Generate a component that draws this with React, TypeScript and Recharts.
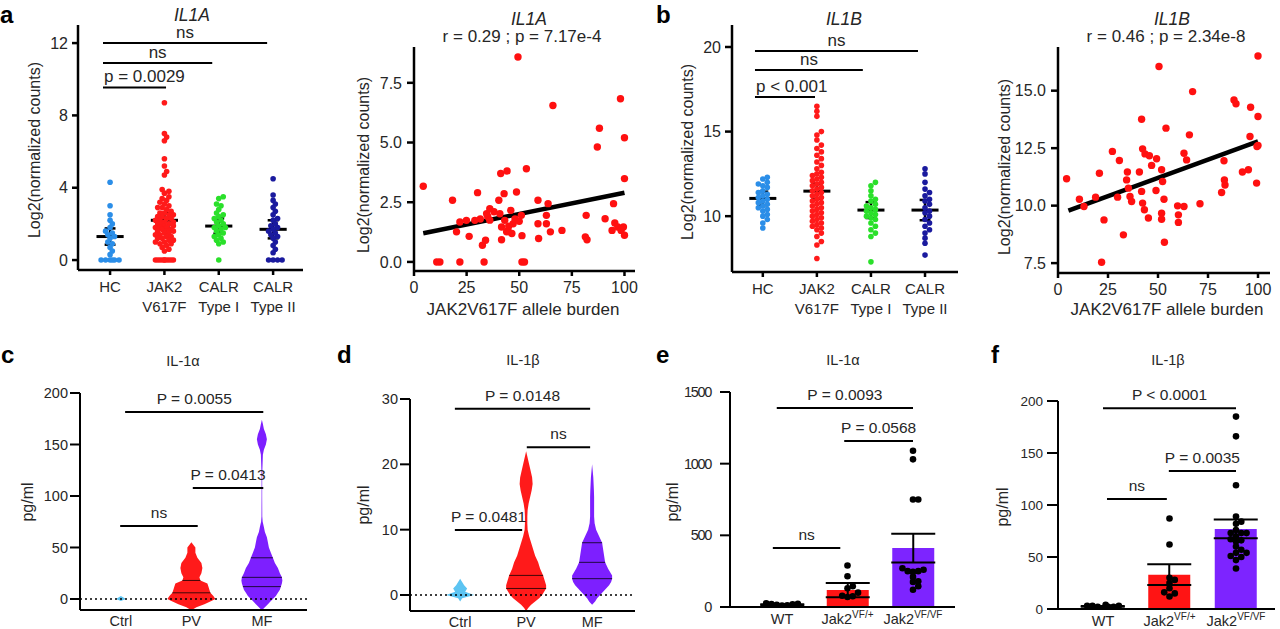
import React from 'react';
import { Area, Bar, Cell, ComposedChart, ErrorBar, ReferenceLine, Scatter, XAxis, YAxis } from 'recharts';

const FONT = '"Liberation Sans", Arial, Helvetica, sans-serif';
const INK = '#262626';
const M = { l: 70, t: 30, r: 15, b: 50 };
const axisTop = { stroke: '#000', strokeWidth: 2.5 };
const axisBottom = { stroke: '#000', strokeWidth: 2 };

// ---------- a / b : expression by genotype ----------
const groupLabels = [['HC'], ['JAK2', 'V617F'], ['CALR', 'Type I'], ['CALR', 'Type II']];
const groupColors = ['#2b8ee8', '#ff1a1a', '#2ae02a', '#1a1a9e'];

const il1aHC = [4.3, 3.0, 2.5, 2.2, 2.0, 1.8, 1.6, 1.5, 1.4, 1.3, 1.2, 1.0, 0.9, 0.7, 0.5, 0.3, 0, 0, 0, 0, 0, 0];
const il1aJAK2 = [
  8.7, 7.0, 6.8, 6.6, 5.6, 5.2, 4.9, 4.7, 3.9, 3.8, 3.7, 3.5, 3.4, 3.3, 3.2, 3.1, 3.0, 2.9, 2.9, 2.8, 2.7, 2.6, 2.6,
  2.5, 2.5, 2.4, 2.4, 2.3, 2.3, 2.2, 2.2, 2.1, 2.1, 2.0, 2.0, 2.0, 1.9, 1.9, 1.8, 1.8, 1.8, 1.7, 1.7, 1.6, 1.6, 1.6,
  1.5, 1.5, 1.4, 1.4, 1.3, 1.3, 1.2, 1.2, 1.1, 1.1, 1.0, 1.0, 0.9, 0.9, 0.8, 0.7, 0.6, 0.5, 0, 0, 0, 0, 0, 0, 0, 0, 0, 0,
];
const il1aCALR1 = [3.5, 3.4, 3.1, 3.0, 2.8, 2.6, 2.5, 2.4, 2.3, 2.2, 2.1, 2.0, 1.9, 1.8, 1.8, 1.7, 1.6, 1.5, 1.4, 1.3, 1.2, 1.1, 1.0, 0.9, 0];
const il1aCALR2 = [4.5, 3.6, 3.3, 3.1, 2.9, 2.7, 2.5, 2.3, 2.2, 2.0, 1.9, 1.8, 1.7, 1.6, 1.5, 1.4, 1.3, 1.2, 1.0, 0.8, 0.6, 0.4, 0, 0, 0, 0];
const il1aMean = [1.3, 2.2, 1.88, 1.7];
const il1aSem = [0.45, 0.4, 0.42, 0.5];
const il1aSig = [
  { x1: 0.87, x2: 2.03, y: 9.55, text: 'p = 0.0029', anchor: 'start' },
  { x1: 0.87, x2: 2.88, y: 10.9, text: 'ns' },
  { x1: 0.87, x2: 3.89, y: 12.0, text: 'ns' },
];

const il1bHC = [12.3, 12.2, 12.0, 11.9, 11.8, 11.7, 11.5, 11.4, 11.3, 11.2, 11.1, 11.0, 10.9, 10.8, 10.7, 10.6, 10.5, 10.4, 10.3, 10.1, 10.0, 9.8, 9.6, 9.3];
const il1bJAK2 = [
  16.5, 16.2, 15.9, 15.0, 14.8, 14.5, 14.2, 14.0, 13.8, 13.6, 13.4, 13.2, 13.0, 12.8, 12.6, 12.5, 12.4, 12.3, 12.2,
  12.1, 12.0, 11.9, 11.8, 11.7, 11.6, 11.5, 11.4, 11.3, 11.2, 11.1, 11.0, 10.9, 10.8, 10.7, 10.6, 10.5, 10.4, 10.3,
  10.2, 10.1, 10.0, 9.9, 9.8, 9.7, 9.6, 9.5, 9.4, 9.3, 9.2, 9.0, 8.8, 8.5, 8.3, 7.5,
];
const il1bCALR1 = [12.0, 11.8, 11.5, 11.2, 11.0, 10.9, 10.7, 10.6, 10.5, 10.4, 10.3, 10.2, 10.1, 10.0, 9.9, 9.8, 9.6, 9.4, 9.2, 9.0, 8.8, 7.3];
const il1bCALR2 = [12.8, 12.5, 12.0, 11.6, 11.4, 11.2, 11.0, 10.9, 10.7, 10.5, 10.3, 10.2, 10.0, 9.8, 9.6, 9.4, 9.2, 9.0, 8.7, 8.4, 7.7];
const il1bMean = [11.05, 11.48, 10.36, 10.36];
const il1bSem = [0.4, 0.45, 0.47, 0.6];
const il1bSig = [
  { x1: 0.855, x2: 1.965, y: 17.04, text: 'p < 0.001', anchor: 'start' },
  { x1: 0.855, x2: 2.85, y: 18.64, text: 'ns' },
  { x1: 0.855, x2: 3.87, y: 19.76, text: 'ns' },
];

// ---------- correlation with allele burden ----------
const il1aBurden = [
  4.4, 18.3, 20.2, 21.8, 10.8, 12.3, 21.8, 26.2, 24.9, 30.2, 28.9, 32.5, 34, 33.3, 34.5, 36, 40.3, 41.2, 44.2, 42.8,
  40.8, 41.6, 41.6, 43.1, 44.7, 46, 48.7, 47.1, 49.4, 51, 53.4, 51.3, 51.3, 52.5, 58.9, 58.9, 59.2, 63.7, 62.9, 62.9,
  64.8, 66, 70.3, 81.8, 81.4, 82.2, 87.1, 88.1, 90.8, 94.8, 94.1, 95.4, 96.8, 98.1, 98.4, 99.5, 100, 100, 100, 44,
  46.5, 35, 38, 45, 31.5, 48, 50, 36,
];
const il1aCounts = [
  3.17, 2.58, 1.26, 1.67, 0, 0, 0, 1.07, 1.74, 2.9, 1.74, 0.7, 0.91, 0, 2.02, 2.23, 2.58, 3.7, 3.81, 2.86,
  2.02, 1.46, 0.93, 1.74, 1.32, 2.16, 2.93, 1.6, 8.58, 1.95, 3.9, 1.1, 0, 0, 2.58, 1.6, 0.98, 2.44, 1.95, 1.6,
  1.26, 6.55, 1.32, 1.95, 1.05, 0.93, 4.81, 5.6, 1.81, 2.44, 1.32, 1.63, 1.46, 6.83, 1.32, 1.46, 5.2, 3.49, 1.12, 1.26,
  1.19, 1.9, 2.1, 1.5, 1.8, 1.8, 1.7, 1.75,
];
const il1aFit = { a: 1.12, b: 0.0178, from: 4.4, to: 100 };

const il1bBurden = [
  4.3, 10.7, 13, 18.8, 20.7, 23, 21.8, 27.2, 30.7, 29.8, 32.7, 34.7, 34.3, 35.2, 36, 36.8, 40.7, 41.8, 42.3, 43.5,
  41.8, 42.3, 43.2, 45.2, 46.8, 45.7, 49.3, 49, 50.5, 51.8, 52.3, 53, 51.8, 51.8, 53.2, 54, 59.8, 60.2, 60.2, 63,
  63, 64.3, 65.7, 67.3, 71, 81.8, 83, 83.2, 83.5, 88, 89, 92.2, 95.2, 96.3, 96, 99.3, 100, 100, 100, 99.5,
];
const il1bCounts = [
  11.17, 10.28, 9.96, 10.37, 11.41, 9.38, 7.54, 12.36, 11.96, 10.37, 8.73, 11.46, 11.12, 10.76, 10.4, 10.18, 11.46,
  13.76, 12.47, 12.25, 10.62, 10.11, 9.82, 9.46, 11.75, 12.17, 12.04, 10.66, 16.05, 11.56, 11.05, 10.28, 9.67, 9.41,
  8.41, 13.37, 9.99, 9.6, 9.27, 9.96, 12.28, 11.99, 13.08, 14.96, 10.08, 10.57, 11.95, 11.12, 10.9, 14.6, 14.43,
  11.46, 11.56, 14.28, 13.01, 10.98, 12.62, 16.51, 13.88, 12.57,
];
const il1bFit = { a: 9.62, b: 0.0318, from: 5.2, to: 100 };

// ---------- c / d : patient plasma, violins ----------
const patientGroups = ['Ctrl', 'PV', 'MF'];
const violinColors = ['#5cc4f2', '#ff1a1a', '#7d1fff'];

const cGrid = [-11, -8, -5, -2, 0, 3, 6, 9, 12, 15, 18, 21, 25, 30, 35, 40, 45, 50, 55, 60, 65, 70, 75, 80, 100, 120, 140, 145, 150, 155, 160, 165, 170, 174];
const cCtrl = [null, null, null, 0, 5, 0, null, null, null, null, null, null, null, null, null, null, null, null, null, null, null, null, null, null, null, null, null, null, null, null, null, null, null, null];
const cPV = [0, 5, 13, 20, 24, 22, 19, 18, 17, 16, 9, 8, 10, 11, 10, 6, 4, 4, 0, null, null, null, null, null, null, null, null, null, null, null, null, null, null, null];
const cMF = [0, 3, 6, 9, 11, 14, 16, 18, 19, 20, 20.5, 20, 18, 16, 13, 11, 9, 7, 6, 5, 3, 2, 0.8, 0.4, 0.3, 0.3, 1, 2, 4, 5, 4, 2, 1, 0];
const cQuart = [[], [6, 18], [12, 21, 40]];
const cSig = [
  { x1: 1.06, x2: 3.02, y: 181.5, text: 'P = 0.0055' },
  { x1: 2.02, x2: 3.02, y: 107.8, text: 'P = 0.0413' },
  { x1: 0.99, x2: 2.09, y: 70.9, text: 'ns' },
];

const dGrid = [-2.5, -2, -1.5, -1, -0.5, 0, 0.5, 1, 1.5, 2, 2.5, 3, 4, 5, 6, 7, 8, 9, 10, 11, 12, 13, 14, 15, 16, 17, 18, 19, 20, 21, 22];
const dCtrl = [null, null, null, 0, 2, 14, 5, 7, 4, 2, 0, null, null, null, null, null, null, null, null, null, null, null, null, null, null, null, null, null, null, null, null];
const dPV = [0, 2, 5, 9, 13, 16, 18, 20, 20, 19, 18, 17, 14, 12, 9, 7, 5, 3, 1.5, 1.2, 1.2, 1.5, 2.5, 4, 5.5, 6.5, 6, 4.5, 3, 1.5, 0];
const dMF = [null, null, 0, 3, 5, 8, 11, 14, 17, 19, 20, 20, 16, 13, 12, 11, 10, 7, 4, 2.5, 2, 2, 2, 2, 1.8, 1.5, 1.2, 0.6, 0, null, null];
const dQuart = [[], [1, 3], [2.5, 5, 8]];
const dSig = [
  { x1: 0.92, x2: 2.97, y: 28.5, text: 'P = 0.0148' },
  { x1: 2.01, x2: 2.97, y: 22.6, text: 'ns' },
  { x1: 0.92, x2: 1.94, y: 9.95, text: 'P = 0.0481' },
];

// ---------- e / f : mice, bars with points ----------
const mouseGroups = [['WT', ''], ['Jak2', 'VF/+'], ['Jak2', 'VF/VF']];
const barColors = ['#ffffff', '#ff1414', '#7d24ff'];

const eWT = [10, 25, 20, 15, 22, 12, 18];
const eHet = [290, 215, 145, 130, 100, 75, 70, 78];
const eHom = [1090, 1030, 750, 750, 260, 270, 250, 250, 245, 210, 180, 175, 145, 120];
const eMean = [16, 118, 411];
const eSem = [3, 50, 100];
const eSig = [
  { x1: 0.92, x2: 3.0, y: 1388, text: 'P = 0.0093' },
  { x1: 1.95, x2: 3.0, y: 1158, text: 'P = 0.0568' },
  { x1: 0.86, x2: 1.89, y: 411, text: 'ns' },
];

const fWT = [2, 4, 3, 2, 3, 1, 2, 3];
const fHet = [87, 62, 30, 28, 12, 15, 16, 20, 25];
const fHom = [185, 166, 119, 89, 84, 82, 73, 66, 54, 50, 39, 47, 54, 51, 67, 73, 76, 73, 65, 57, 60, 70];
const fMean = [2.5, 33, 77];
const fSem = [0.4, 10, 9];
const fSig = [
  { x1: 1.0, x2: 3.0, y: 193, text: 'P < 0.0001' },
  { x1: 1.99, x2: 3.0, y: 132.7, text: 'P = 0.0035' },
  { x1: 1.06, x2: 1.96, y: 105.8, text: 'ns' },
];

// spread points sideways so they don't sit on top of each other (pixel space)
function swarm(values: number[], pxPerUnit: number, r: number, maxPx: number) {
  const step = r * 0.8;
  const minD = r * 1.5;
  const cands = [0];
  for (let s = step; s <= maxPx + 0.01; s += step) cands.push(s, -s);
  const order = values.map((_, i) => i).sort((a, b) => values[a] - values[b]);
  const placed: { x: number; y: number }[] = [];
  const out = values.map(() => 0);
  order.forEach((i) => {
    const y = values[i] * pxPerUnit;
    let best = 0;
    let bestD = -1;
    for (const c of cands) {
      let d = Infinity;
      for (const p of placed) d = Math.min(d, Math.hypot(p.x - c, p.y - y));
      if (d >= minD) {
        best = c;
        break;
      }
      if (d > bestD) {
        bestD = d;
        best = c;
      }
    }
    placed.push({ x: best, y });
    out[i] = best;
  });
  return out;
}

function frame(x0: number, y0: number, x1: number, y1: number) {
  return { left: x0 - M.l, top: y0 - M.t, width: x1 - x0 + M.l + M.r, height: y1 - y0 + M.t + M.b };
}

function sigLabel(text: string, gap: number, size: number, anchor = 'middle') {
  return (p: any) => {
    const vb = p.viewBox || {};
    const x = anchor === 'start' ? vb.x + 1 : vb.x + vb.width / 2;
    return (
      <text x={x} y={vb.y - gap} textAnchor={anchor} fontSize={size} fill={INK} fontFamily={FONT}>
        {text}
      </text>
    );
  };
}

function sigLines(sigs: any[], gap: number, size: number, width: number, xAxisId?: string) {
  return sigs.map((s, i) => (
    <ReferenceLine
      key={'sig' + i}
      {...(xAxisId ? { xAxisId } : {})}
      segment={[{ x: s.x1, y: s.y }, { x: s.x2, y: s.y }]}
      stroke="#000"
      strokeWidth={width}
      label={sigLabel(s.text, gap, size, s.anchor)}
    />
  ));
}

const yTick = (size: number) => ({ fontSize: size, fill: INK, fontFamily: FONT });

function DotPlot({ rect, xDomain, yDomain, yTicks, yTickSize, groups, means, sems, sigs, pxY, pxX }: any) {
  const f = frame(rect[0], rect[1], rect[2], rect[3]);
  const series = groups.map((vals: number[], g: number) => {
    const off = swarm(vals, pxY, 2.8, 9);
    return vals.map((v, i) => ({ x: g + 1 + off[i] / pxX, y: v }));
  });
  return (
    <div style={{ position: 'absolute', left: f.left, top: f.top }}>
      <ComposedChart width={f.width} height={f.height} margin={{ top: M.t, right: M.r, bottom: 0, left: 0 }}>
        <XAxis
          type="number"
          dataKey="x"
          domain={xDomain}
          allowDataOverflow
          ticks={[1, 2, 3, 4]}
          interval={0}
          height={M.b}
          axisLine={axisTop}
          tickLine={axisTop}
          tickSize={5}
          tickMargin={2}
          tick={(p: any) => (
            <text x={p.x} y={p.y} textAnchor="middle" fontSize={15} fill={INK} fontFamily={FONT}>
              {(groupLabels[Math.round(p.payload.value) - 1] || []).map((t, i) => (
                <tspan key={i} x={p.x} dy={i === 0 ? 15 : 20}>
                  {t}
                </tspan>
              ))}
            </text>
          )}
        />
        <YAxis
          type="number"
          domain={yDomain}
          allowDataOverflow
          ticks={yTicks}
          interval={0}
          width={M.l}
          axisLine={axisTop}
          tickLine={axisTop}
          tickSize={yTickSize}
          tickMargin={4}
          tick={yTick(16)}
        />
        {series.map((d: any[], g: number) => (
          <Scatter
            key={'s' + g}
            data={d}
            dataKey="y"
            isAnimationActive={false}
            shape={(p: any) => <circle cx={p.cx} cy={p.cy} r={2.8} fill={groupColors[g]} />}
          />
        ))}
        {means.map((m: number, g: number) => (
          <ReferenceLine key={'m' + g} segment={[{ x: g + 0.75, y: m }, { x: g + 1.25, y: m }]} stroke="#000" strokeWidth={3} />
        ))}
        {means.map((m: number, g: number) => (
          <ReferenceLine key={'e' + g} segment={[{ x: g + 1, y: m - sems[g] }, { x: g + 1, y: m + sems[g] }]} stroke="#000" strokeWidth={2.5} />
        ))}
        {means.map((m: number, g: number) => (
          <ReferenceLine key={'ct' + g} segment={[{ x: g + 0.9, y: m + sems[g] }, { x: g + 1.1, y: m + sems[g] }]} stroke="#000" strokeWidth={2.5} />
        ))}
        {means.map((m: number, g: number) => (
          <ReferenceLine key={'cb' + g} segment={[{ x: g + 0.9, y: m - sems[g] }, { x: g + 1.1, y: m - sems[g] }]} stroke="#000" strokeWidth={2.5} />
        ))}
        {sigLines(sigs, 5, 17, 2)}
      </ComposedChart>
    </div>
  );
}

function CorrPlot({ rect, xDomain, yDomain, yTicks, xs, ys, fit }: any) {
  const f = frame(rect[0], rect[1], rect[2], rect[3]);
  const data = xs.map((x: number, i: number) => ({ x, y: ys[i] }));
  return (
    <div style={{ position: 'absolute', left: f.left, top: f.top }}>
      <ComposedChart width={f.width} height={f.height} margin={{ top: M.t, right: M.r, bottom: 0, left: 0 }}>
        <XAxis
          type="number"
          dataKey="x"
          domain={xDomain}
          allowDataOverflow
          ticks={[0, 25, 50, 75, 100]}
          interval={0}
          height={M.b}
          axisLine={axisTop}
          tickLine={axisTop}
          tickSize={5}
          tickMargin={2}
          tick={(p: any) => (
            <text x={p.x} y={p.y} dy={15} textAnchor="middle" fontSize={16} fill={INK} fontFamily={FONT}>
              {p.payload.value}
            </text>
          )}
        />
        <YAxis
          type="number"
          domain={yDomain}
          allowDataOverflow
          ticks={yTicks}
          interval={0}
          width={M.l}
          axisLine={axisTop}
          tickLine={axisTop}
          tickSize={7}
          tickMargin={5}
          tickFormatter={(v: number) => v.toFixed(1)}
          tick={yTick(16)}
        />
        <Scatter
          data={data}
          dataKey="y"
          isAnimationActive={false}
          shape={(p: any) => <circle cx={p.cx} cy={p.cy} r={3.7} fill="#ff1010" />}
        />
        <ReferenceLine
          segment={[
            { x: fit.from, y: fit.a + fit.b * fit.from },
            { x: fit.to, y: fit.a + fit.b * fit.to },
          ]}
          stroke="#000"
          strokeWidth={4.5}
        />
      </ComposedChart>
    </div>
  );
}

function ViolinPlot({ rect, xDomain, yDomain, yTicks, grid, dens, quart, k, sigs }: any) {
  const f = frame(rect[0], rect[1], rect[2], rect[3]);
  const rows = grid.map((v: number, i: number) => ({ v, d0: dens[0][i], d1: dens[1][i], d2: dens[2][i] }));
  return (
    <div style={{ position: 'absolute', left: f.left, top: f.top }}>
      <ComposedChart layout="vertical" data={rows} width={f.width} height={f.height} margin={{ top: M.t, right: M.r, bottom: 0, left: 0 }}>
        <XAxis
          type="number"
          domain={xDomain}
          allowDataOverflow
          ticks={[1, 2, 3]}
          interval={0}
          height={M.b}
          axisLine={axisBottom}
          tickLine={false}
          tickSize={0}
          tickMargin={0}
          tick={(p: any) => (
            <text x={p.x} y={p.y} dy={15.5} textAnchor="middle" fontSize={14.5} fill={INK} fontFamily={FONT}>
              {patientGroups[Math.round(p.payload.value) - 1]}
            </text>
          )}
        />
        <YAxis
          type="number"
          dataKey="v"
          reversed
          domain={yDomain}
          allowDataOverflow
          ticks={yTicks}
          interval={0}
          width={M.l}
          axisLine={axisBottom}
          tickLine={axisBottom}
          tickSize={10}
          tickMargin={2}
          tick={yTick(14.5)}
        />
        <ReferenceLine y={0} stroke="#000" strokeWidth={1.5} strokeDasharray="2 3" />
        {[0, 1, 2].map((j) => (
          <Area
            key={'v' + j}
            type="linear"
            dataKey={(r: any) => (r['d' + j] == null ? null : [j + 1 - r['d' + j] * k, j + 1 + r['d' + j] * k])}
            fill={violinColors[j]}
            fillOpacity={1}
            stroke="none"
            dot={false}
            activeDot={false}
            isAnimationActive={false}
          />
        ))}
        {quart.map((qs: number[], j: number) =>
          qs.map((q, n) => {
            const w = dens[j][grid.indexOf(q)] * k;
            return (
              <ReferenceLine
                key={'q' + j + n}
                segment={[{ x: j + 1 - w, y: q }, { x: j + 1 + w, y: q }]}
                stroke="#000"
                strokeOpacity={0.75}
                strokeWidth={1}
              />
            );
          })
        )}
        {sigLines(sigs, 8, 15.5, 2)}
      </ComposedChart>
    </div>
  );
}

function BarPlot({ rect, pad, yDomain, yTicks, tickSize, tickMargin, tickStyle, groups, means, sems, sigs, pxY, pxX }: any) {
  const f = frame(rect[0], rect[1], rect[2], rect[3]);
  const rows = means.map((m: number, i: number) => ({ name: i + 1, mean: m, sem: sems[i] }));
  const pts = groups.flatMap((vals: number[], g: number) => {
    const off = swarm(vals, pxY, 3.3, 20);
    return vals.map((v, i) => ({ x: g + 1 + off[i] / pxX, y: v }));
  });
  return (
    <div style={{ position: 'absolute', left: f.left, top: f.top }}>
      <ComposedChart data={rows} width={f.width} height={f.height} margin={{ top: M.t, right: M.r, bottom: 0, left: 0 }}>
        <XAxis
          dataKey="name"
          type="category"
          padding={pad}
          height={M.b}
          axisLine={axisBottom}
          tickLine={false}
          tickSize={0}
          tickMargin={0}
          interval={0}
          tick={(p: any) => {
            const [base, sup] = mouseGroups[Math.round(p.payload.value) - 1] || ['', ''];
            return (
              <text x={p.x} y={p.y} dy={16.5} textAnchor="middle" fontSize={14.5} fill={INK} fontFamily={FONT}>
                {base}
                {sup ? (
                  <tspan fontSize={10} dy={-6}>
                    {sup}
                  </tspan>
                ) : null}
              </text>
            );
          }}
        />
        <XAxis xAxisId="n" type="number" dataKey="x" domain={[0.5, 3.5]} allowDataOverflow padding={pad} hide />
        <YAxis
          type="number"
          domain={yDomain}
          allowDataOverflow
          ticks={yTicks}
          interval={0}
          width={M.l}
          axisLine={axisBottom}
          tickLine={axisBottom}
          tickSize={tickSize}
          tickMargin={tickMargin}
          tick={tickStyle}
        />
        <Bar dataKey="mean" barSize={42} isAnimationActive={false}>
          {rows.map((_: any, i: number) => (
            <Cell key={i} fill={barColors[i]} />
          ))}
          <ErrorBar dataKey="sem" width={22} stroke="#000" strokeWidth={2} isAnimationActive={false} />
        </Bar>
        <Scatter
          xAxisId="n"
          data={pts}
          dataKey="y"
          isAnimationActive={false}
          shape={(p: any) => <circle cx={p.cx} cy={p.cy} r={3.3} fill="#000" />}
        />
        {sigLines(sigs, 8, 15.5, 2, 'n')}
      </ComposedChart>
    </div>
  );
}

function Labels() {
  const t = { fontFamily: FONT, fill: INK };
  const rot = (x: number, y: number, s: number, text: string) => (
    <text x={x} y={y} transform={`rotate(-90 ${x} ${y})`} textAnchor="middle" dominantBaseline="central" fontSize={s} {...t}>
      {text}
    </text>
  );
  const letter = (x: number, y: number, s: number, text: string) => (
    <text x={x} y={y} fontSize={s} fontWeight="bold" fontFamily={FONT} fill="#000">
      {text}
    </text>
  );
  const mid = (x: number, y: number, s: number, text: string, italic = false) => (
    <text x={x} y={y} textAnchor="middle" fontSize={s} fontStyle={italic ? 'italic' : 'normal'} {...t}>
      {text}
    </text>
  );
  return (
    <svg width={1280} height={629} style={{ position: 'absolute', left: 0, top: 0, pointerEvents: 'none' }}>
      {letter(0, 23, 24, 'a')}
      {letter(656, 23, 24, 'b')}
      {letter(1, 363, 24, 'c')}
      {letter(337, 363, 24, 'd')}
      {letter(656, 363, 24, 'e')}
      {letter(991, 363, 24, 'f')}

      {mid(192, 21, 17.5, 'IL1A', true)}
      {mid(529, 25, 17.5, 'IL1A', true)}
      {mid(522, 41.5, 17, 'r = 0.29 ; p = 7.17e-4')}
      {mid(844, 25, 17.5, 'IL1B', true)}
      {mid(1172, 25, 17.5, 'IL1B', true)}
      {mid(1166, 42, 17, 'r = 0.46 ; p = 2.34e-8')}

      {rot(34, 150, 16, 'Log2(normalized counts)')}
      {rot(363, 165, 16, 'Log2(normalized counts)')}
      {rot(687, 152, 16, 'Log2(normalized counts)')}
      {rot(1004, 167, 16, 'Log2(normalized counts)')}
      <text x={523} y={309} textAnchor="middle" dominantBaseline="central" fontSize={17} {...t}>
        JAK2V617F allele burden
      </text>
      <text x={1167} y={309} textAnchor="middle" dominantBaseline="central" fontSize={17} {...t}>
        JAK2V617F allele burden
      </text>

      {mid(183, 366, 14.5, 'IL-1α')}
      {mid(523, 365, 14.5, 'IL-1β')}
      {mid(843, 365, 14.5, 'IL-1α')}
      {mid(1168, 365, 14.5, 'IL-1β')}
      {rot(27, 502, 16, 'pg/ml')}
      {rot(363, 505, 16, 'pg/ml')}
      {rot(672, 502, 16, 'pg/ml')}
      {rot(1002, 507, 16, 'pg/ml')}
    </svg>
  );
}

export default function App() {
  return (
    <div style={{ position: 'absolute', left: 0, top: 0, width: 1280, height: 629, background: '#fff', overflow: 'hidden' }}>
      <DotPlot
        rect={[78, 25, 303, 270]}
        xDomain={[0.41, 4.55]}
        yDomain={[-0.55, 13]}
        yTicks={[0, 4, 8, 12]}
        yTickSize={6}
        groups={[il1aHC, il1aJAK2, il1aCALR1, il1aCALR2]}
        means={il1aMean}
        sems={il1aSem}
        sigs={il1aSig}
        pxY={18.1}
        pxX={54.3}
      />
      <CorrPlot rect={[414, 47, 635, 271]} xDomain={[0, 105]} yDomain={[-0.38, 9]} yTicks={[0, 2.5, 5, 7.5]} xs={il1aBurden} ys={il1aCounts} fit={il1aFit} />
      <DotPlot
        rect={[732, 25, 958, 272]}
        xDomain={[0.43, 4.61]}
        yDomain={[6.7, 21.3]}
        yTicks={[10, 15, 20]}
        yTickSize={7}
        groups={[il1bHC, il1bJAK2, il1bCALR1, il1bCALR2]}
        means={il1bMean}
        sems={il1bSem}
        sigs={il1bSig}
        pxY={16.9}
        pxX={54}
      />
      <CorrPlot rect={[1058, 47, 1270, 273]} xDomain={[0, 106]} yDomain={[7.07, 16.9]} yTicks={[7.5, 10, 12.5, 15]} xs={il1bBurden} ys={il1bCounts} fit={il1bFit} />

      <ViolinPlot
        rect={[80, 393, 307, 610]}
        xDomain={[0.42, 3.64]}
        yDomain={[-10.7, 200]}
        yTicks={[0, 50, 100, 150, 200]}
        grid={cGrid}
        dens={[cCtrl, cPV, cMF]}
        quart={cQuart}
        k={1 / 70.5}
        sigs={cSig}
      />
      <ViolinPlot
        rect={[410, 399, 635, 611]}
        xDomain={[0.24, 3.65]}
        yDomain={[-2.45, 30]}
        yTicks={[0, 10, 20, 30]}
        grid={dGrid}
        dens={[dCtrl, dPV, dMF]}
        quart={dQuart}
        k={1 / 66}
        sigs={dSig}
      />
      <BarPlot
        rect={[730, 392, 955, 607]}
        pad={{ left: 19.25, right: 9.25 }}
        yDomain={[0, 1500]}
        yTicks={[0, 500, 1000, 1500]}
        tickSize={10}
        tickMargin={9}
        tickStyle={{ fontSize: 14.5, fill: INK, fontFamily: FONT, letterSpacing: -1.3 }}
        groups={[eWT, eHet, eHom]}
        means={eMean}
        sems={eSem}
        sigs={eSig}
        pxY={0.1434}
        pxX={65.5}
      />
      <BarPlot
        rect={[1058, 401, 1275, 609]}
        pad={{ left: 11.75, right: 5.75 }}
        yDomain={[0, 200]}
        yTicks={[0, 50, 100, 150, 200]}
        tickSize={11}
        tickMargin={4}
        tickStyle={{ fontSize: 13.5, fill: INK, fontFamily: FONT }}
        groups={[fWT, fHet, fHom]}
        means={fMean}
        sems={fSem}
        sigs={fSig}
        pxY={1.04}
        pxX={66.5}
      />
      <Labels />
    </div>
  );
}
